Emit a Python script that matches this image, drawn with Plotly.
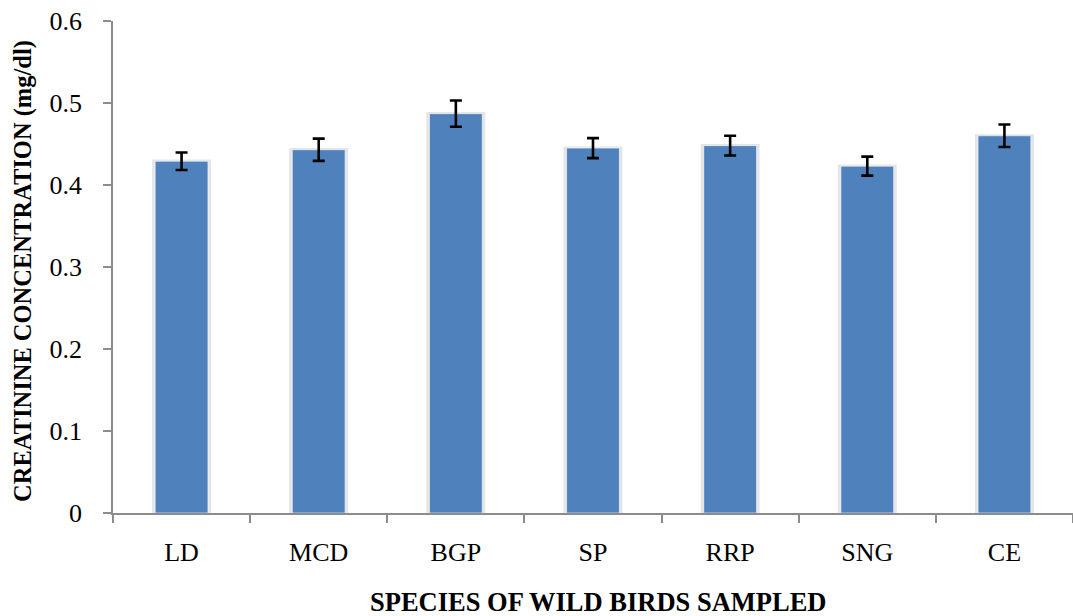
import plotly.graph_objects as go

species = ["LD", "MCD", "BGP", "SP", "RRP", "SNG", "CE"]
creatinine = [0.429, 0.443, 0.487, 0.445, 0.448, 0.423, 0.460]
errors = [0.0107, 0.0136, 0.0160, 0.0122, 0.0120, 0.0116, 0.0137]
y_ticks = [0, 0.1, 0.2, 0.3, 0.4, 0.5, 0.6]
y_tick_text = ["0", "0.1", "0.2", "0.3", "0.4", "0.5", "0.6"]

FONT = "Liberation Serif, Times New Roman, serif"

fig = go.Figure()
# soft shadow behind bars
fig.add_trace(go.Bar(
    x=species, y=[v + 0.002 for v in creatinine], width=0.43,
    marker=dict(color="rgba(0,0,0,0.10)", line=dict(width=0)),
    hoverinfo="skip", showlegend=False,
))
fig.add_trace(go.Bar(
    x=species, y=creatinine, width=0.385,
    marker=dict(color="#4F81BD", line=dict(color="rgba(255,255,255,0.6)", width=1)),
    error_y=dict(type="data", array=errors, visible=True,
                 color="black", thickness=2.6, width=6),
    showlegend=False,
))

fig.update_layout(
    width=1073, height=616,
    margin=dict(l=113, r=0, t=21, b=103),
    paper_bgcolor="white", plot_bgcolor="white",
    barmode="overlay",
    font=dict(family=FONT, color="black"),
    xaxis=dict(
        showline=True, linecolor="#8c8c8c", linewidth=1.5,
        ticks="outside", tickson="boundaries", ticklen=8, tickcolor="#8c8c8c",
        tickwidth=1.5,
        tickfont=dict(family=FONT, size=26, color="black"),
        ticklabelstandoff=15,
        showgrid=False, zeroline=False,
    ),
    yaxis=dict(
        range=[0, 0.6], tickvals=y_ticks, ticktext=y_tick_text,
        showline=True, linecolor="#8c8c8c", linewidth=1.5,
        ticks="outside", ticklen=8, tickcolor="#8c8c8c", tickwidth=1.5,
        tickfont=dict(family=FONT, size=26, color="black"),
        ticklabelstandoff=16,
        showgrid=False, zeroline=False,
    ),
    annotations=[
        dict(text="<b>SPECIES OF WILD BIRDS SAMPLED</b>", xref="paper", yref="paper",
             x=(598 - 113) / 960, y=-(602 - 513) / 492, xanchor="center", yanchor="middle",
             showarrow=False, font=dict(family=FONT, size=26.5, color="black")),
        dict(text="<b>CREATININE CONCENTRATION (mg/dl)</b>", xref="paper", yref="paper",
             x=(23 - 113) / 960, y=0.5 - (271 - 267) / 492, xanchor="center", yanchor="middle",
             textangle=-90, showarrow=False,
             font=dict(family=FONT, size=24.5, color="black")),
    ],
)

fig.write_html("out.html", config={"displayModeBar": False},
               post_script="document.body.style.margin='0';document.body.style.overflow='hidden';")
